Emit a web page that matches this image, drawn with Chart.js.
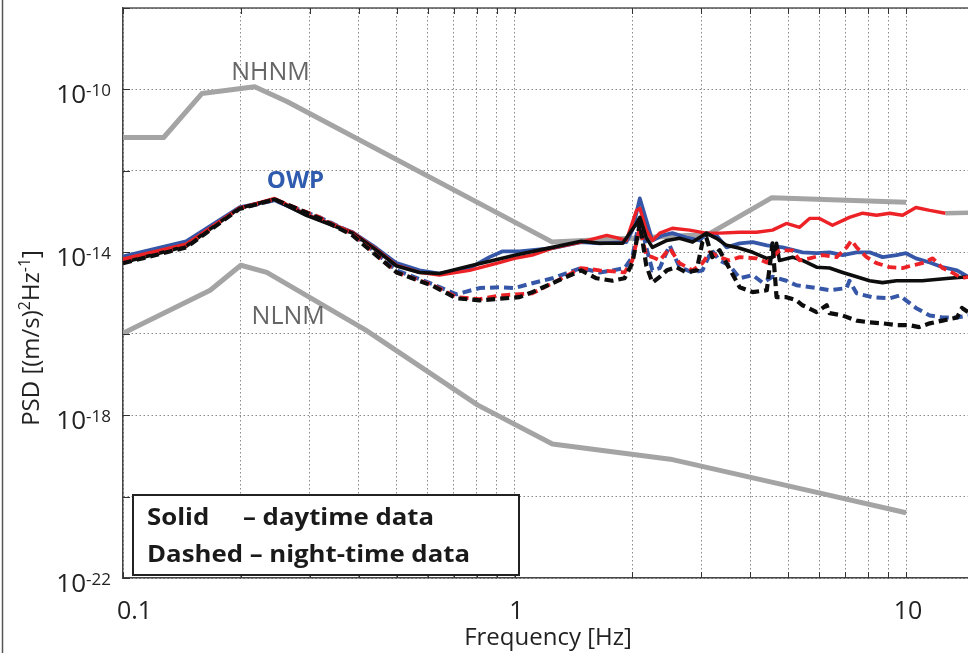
<!DOCTYPE html>
<html>
<head>
<meta charset="utf-8">
<script src="https://cdn.jsdelivr.net/npm/chart.js@4.4.1/dist/chart.umd.min.js"></script>
<style>
html,body{margin:0;padding:0;background:#fff;overflow:hidden;}
#wrap{position:relative;width:968px;height:653px;}
canvas{display:block;}
</style>
</head>
<body>
<div id="wrap"><canvas id="chart" width="968" height="653"></canvas></div>
<script>
// ---------------- DATA ----------------
const xTickValues = [0.1,0.2,0.3,0.4,0.5,0.6,0.7,0.8,0.9,1,2,3,4,5,6,7,8,9,10];
const xLabelValues = [0.1, 1, 10];
const xLabelTexts  = ['0.1', '1', '10'];
const yGridValues  = [1e-22,1e-20,1e-18,1e-16,1e-14,1e-12,1e-10,1e-8];
const yLabelValues = [1e-22, 1e-18, 1e-14, 1e-10];
const yLabelExps   = ['-22', '-18', '-14', '-10'];

// Peterson noise models  [frequency Hz, PSD]
const nhnm = [[0.1,6.6e-12],[0.127,6.6e-12],[0.159,7.9e-11],[0.217,1.17e-10],[0.263,5.0e-11],
              [1.25,1.78e-14],[3.125,2.75e-14],[4.545,2.2e-13],[10,1.7e-13]];
const nlnm = [[0.1,1.02e-16],[0.167,1.17e-15],[0.2,4.8e-15],[0.233,3.2e-15],[0.417,1.23e-16],
              [0.806,1.76e-18],[1.25,1.95e-19],[2.5,8.3e-20],[5.88,1.29e-20],[10,4.0e-21]];
const grayTail = [[12.6,9.1e-14],[14.4,9.3e-14]];

// daytime (solid)
const blueDay = [[0.1,7.9e-15],[0.145,1.86e-14],[0.198,1.26e-13],[0.244,1.9e-13],[0.294,8.5e-14],[0.386,3.1e-14],
  [0.444,1.26e-14],[0.5,5.4e-15],[0.572,3.6e-15],[0.643,3.0e-15],[0.768,4.1e-15],[0.863,7.6e-15],[0.93,1.05e-14],
  [1.03,1.05e-14],[1.25,1.26e-14],[1.48,1.78e-14],[1.65,1.66e-14],[1.93,1.78e-14],[2.0,3.5e-14],[2.09,2.1e-13],
  [2.17,6.2e-14],[2.25,1.95e-14],[2.39,2.6e-14],[2.53,2.95e-14],[2.75,2.3e-14],[2.97,1.95e-14],[3.09,2.95e-14],
  [3.28,2.6e-14],[3.48,1.32e-14],[3.76,1.66e-14],[4.06,1.78e-14],[4.41,1.48e-14],[4.84,1.32e-14],[5.44,1.0e-14],
  [5.91,9.5e-15],[6.38,1.0e-14],[6.89,8.5e-15],[7.48,1.0e-14],[8.07,1.0e-14],[8.71,7.6e-15],[9.46,8.5e-15],
  [10.0,9.5e-15],[10.6,7.1e-15],[11.5,5.6e-15],[12.4,4.3e-15],[13.5,3.6e-15],[14.4,2.5e-15]];
const redDay = [[0.1,6.8e-15],[0.145,1.58e-14],[0.198,1.2e-13],[0.244,2.1e-13],[0.294,8.5e-14],[0.386,3.1e-14],
  [0.444,1.18e-14],[0.5,4.8e-15],[0.572,3.2e-15],[0.643,2.75e-15],[0.768,3.6e-15],[0.915,5.6e-15],[1.0,7.1e-15],
  [1.11,8.5e-15],[1.25,1.26e-14],[1.48,1.78e-14],[1.72,2.6e-14],[1.82,2.3e-14],[1.93,1.95e-14],[2.05,1.07e-13],
  [2.09,1.2e-13],[2.17,3.5e-14],[2.25,1.95e-14],[2.35,2.95e-14],[2.53,3.9e-14],[2.8,3.5e-14],[3.09,2.95e-14],
  [3.34,2.95e-14],[3.76,3.1e-14],[4.15,3.1e-14],[4.56,3.5e-14],[4.95,5.1e-14],[5.35,4.1e-14],[5.67,6.8e-14],
  [6.01,6.8e-14],[6.49,4.6e-14],[7.17,7.2e-14],[7.75,9.1e-14],[8.41,8.1e-14],[9.08,9.1e-14],[9.8,8.1e-14],
  [10.6,1.26e-13],[11.5,1.07e-13],[12.6,9.1e-14]];
const blackDay = [[0.1,5.6e-15],[0.145,1.41e-14],[0.198,1.2e-13],[0.244,2.0e-13],[0.294,8.1e-14],[0.386,2.95e-14],
  [0.444,1.12e-14],[0.5,4.6e-15],[0.572,3.2e-15],[0.643,3.0e-15],[0.768,4.6e-15],[0.954,7.6e-15],[1.0,8.5e-15],
  [1.25,1.32e-14],[1.48,1.86e-14],[1.65,1.66e-14],[1.89,1.66e-14],[2.05,5.1e-14],[2.09,7.2e-14],[2.17,2.3e-14],
  [2.25,1.32e-14],[2.45,1.95e-14],[2.64,2.2e-14],[2.85,1.78e-14],[3.09,2.95e-14],[3.28,2.2e-14],[3.48,1.48e-14],
  [3.76,1.26e-14],[4.06,1.0e-14],[4.41,7.1e-15],[4.56,7.6e-15],[4.67,1.66e-14],[4.75,6.3e-15],[5.13,7.6e-15],
  [5.44,6.3e-15],[5.91,4.3e-15],[6.38,4.1e-15],[6.89,3.2e-15],[7.48,2.5e-15],[8.07,2.0e-15],[8.71,1.8e-15],
  [9.46,2.0e-15],[11.0,2.0e-15],[12.9,2.3e-15],[14.4,2.5e-15]];

// night-time (dashed)
const blueNight = [[0.1,7.1e-15],[0.145,1.66e-14],[0.198,1.2e-13],[0.244,1.9e-13],[0.318,7.2e-14],[0.386,2.95e-14],
  [0.5,3.6e-15],[0.62,1.62e-15],[0.711,9.3e-16],[0.814,1.32e-15],[0.915,1.38e-15],[1.0,1.32e-15],[1.11,1.74e-15],
  [1.25,2.3e-15],[1.48,4.1e-15],[1.65,3.2e-15],[1.78,3.6e-15],[1.91,4.1e-15],[2.0,7.6e-15],[2.09,7.2e-14],
  [2.17,1.32e-14],[2.25,3.6e-15],[2.35,4.1e-15],[2.49,1.48e-14],[2.64,4.3e-15],[2.85,3.2e-15],[3.02,3.6e-15],
  [3.19,1.12e-14],[3.34,6.3e-15],[3.54,4.8e-15],[3.76,2.3e-15],[4.06,2.75e-15],[4.3,1.8e-15],[4.56,2.5e-15],
  [4.95,2.0e-15],[5.25,1.55e-15],[5.91,1.32e-15],[6.38,1.17e-15],[7.05,1.32e-15],[7.17,2.0e-15],[7.48,9.8e-16],
  [8.21,7.9e-16],[9.08,7.4e-16],[9.62,8.7e-16],[10.0,6.6e-16],[10.6,4.3e-16],[11.5,2.8e-16],[12.4,2.5e-16],
  [13.5,2.5e-16],[14.4,2.8e-16]];
const redNight = [[0.1,6.3e-15],[0.145,1.48e-14],[0.198,1.2e-13],[0.244,2.0e-13],[0.318,7.2e-14],[0.386,2.75e-14],
  [0.5,3.2e-15],[0.62,1.55e-15],[0.711,7.9e-16],[0.814,7.1e-16],[0.915,8.7e-16],[1.11,9.8e-16],[1.25,1.74e-15],
  [1.48,4.1e-15],[1.65,3.6e-15],[1.91,3.2e-15],[2.0,6.3e-15],[2.09,4.1e-14],[2.17,8.5e-15],[2.25,7.6e-15],
  [2.35,6.3e-15],[2.49,1.26e-14],[2.64,5.4e-15],[2.85,3.6e-15],[3.02,5.4e-15],[3.15,1.0e-14],[3.34,7.6e-15],
  [3.54,6.3e-15],[3.76,7.6e-15],[4.15,7.1e-15],[4.41,5.6e-15],[4.56,7.6e-15],[4.75,1.12e-14],[5.13,1.12e-14],
  [5.35,6.3e-15],[5.67,7.1e-15],[6.12,8.5e-15],[6.65,7.6e-15],[7.05,1.32e-14],[7.26,1.95e-14],[7.48,1.32e-14],
  [7.93,7.6e-15],[8.41,5.4e-15],[9.08,4.3e-15],[9.8,4.1e-15],[10.4,4.8e-15],[11.0,5.4e-15],[11.7,7.1e-15],
  [12.4,4.1e-15],[13.1,3.2e-15],[13.9,2.3e-15],[14.4,2.5e-15]];
const blackNight = [[0.1,5.4e-15],[0.145,1.32e-14],[0.198,1.15e-13],[0.244,2.0e-13],[0.318,6.8e-14],[0.386,2.6e-14],
  [0.5,3.2e-15],[0.62,1.48e-15],[0.711,7.4e-16],[0.814,6.6e-16],[1.03,7.9e-16],[1.11,1.05e-15],[1.25,1.74e-15],
  [1.48,3.6e-15],[1.62,2.3e-15],[1.78,2.0e-15],[1.91,2.3e-15],[2.0,5.4e-15],[2.09,5.1e-14],[2.17,4.8e-15],
  [2.25,1.8e-15],[2.35,2.5e-15],[2.45,3.6e-15],[2.59,4.3e-15],[2.75,3.2e-15],[2.92,3.6e-15],[3.02,1.78e-14],
  [3.09,2.3e-14],[3.2,7.6e-15],[3.34,1.12e-14],[3.48,5.4e-15],[3.76,1.38e-15],[4.06,1.05e-15],[4.41,1.17e-15],
  [4.56,1.66e-14],[4.67,7.9e-16],[4.95,7.9e-16],[5.25,6.6e-16],[5.44,5.0e-16],[5.91,3.4e-16],[6.27,5.0e-16],
  [6.38,3.2e-16],[6.89,2.8e-16],[7.48,2.1e-16],[8.07,1.9e-16],[8.71,1.8e-16],[9.46,1.62e-16],[10.2,1.62e-16],
  [10.8,1.45e-16],[11.5,1.8e-16],[12.4,2.1e-16],[13.5,2.5e-16],[13.9,4.3e-16],[14.4,3.4e-16]];

// text annotations anchored at data coordinates [frequency, PSD]
const noteNHNM = [0.189, 1.66e-10];
const noteOWP  = [0.233, 3.9e-13];
const noteNLNM = [0.213, 1.7e-16];

// ---------------- STYLE ----------------
const RED = '#ec2227', BLUE = '#3657a8', BLACK = '#0d0d0d', GRAY = '#a4a4a4';
const FONT = '"Open Sans", "DejaVu Sans", sans-serif';
const DASH = [9, 5];

const toPts = arr => arr.map(p => ({x: p[0], y: p[1]}));
function ds(label, arr, color, width, dash, order){
  return {label, data: toPts(arr), borderColor: color, backgroundColor: color, borderWidth: width,
          borderDash: dash || [], pointRadius: 0, tension: 0, fill: false, order,
          borderCapStyle: 'butt', borderJoinStyle: 'round'};
}

function drawRich(ctx, segs, size, family, dry){
  let x = 0;
  segs.forEach(s => {
    const fs = s.sup ? size * 0.66 : size;
    ctx.font = fs + 'px ' + family;
    if (!dry) ctx.fillText(s.t, x, s.sup ? -size * 0.36 : 0);
    x += ctx.measureText(s.t).width;
  });
  return x;
}

const deco = {
  id: 'deco',
  afterDraw(chart){
    const {ctx, chartArea: a, scales: {x, y}} = chart;
    ctx.save();
    // outer frame line (left edge of figure)
    ctx.strokeStyle = '#555'; ctx.lineWidth = 1.5;
    ctx.beginPath(); ctx.moveTo(2.5, 0); ctx.lineTo(2.5, chart.height); ctx.stroke();
    // top axis line
    ctx.strokeStyle = '#555'; ctx.lineWidth = 1.5;
    ctx.beginPath(); ctx.moveTo(a.left, a.top); ctx.lineTo(a.right, a.top); ctx.stroke();
    // inward tick marks
    ctx.strokeStyle = '#333'; ctx.lineWidth = 1;
    xTickValues.forEach(v => {
      const px = Math.round(x.getPixelForValue(v)) + 0.5;
      ctx.beginPath();
      ctx.moveTo(px, a.bottom); ctx.lineTo(px, a.bottom - 6);
      ctx.moveTo(px, a.top); ctx.lineTo(px, a.top + 6);
      ctx.stroke();
    });
    yGridValues.forEach(v => {
      const py = Math.round(y.getPixelForValue(v)) + 0.5;
      ctx.beginPath(); ctx.moveTo(a.left, py); ctx.lineTo(a.left + 7, py); ctx.stroke();
    });

    ctx.fillStyle = '#222';
    ctx.textBaseline = 'alphabetic';
    // y tick labels 10^n
    yLabelValues.forEach((v, i) => {
      const py = y.getPixelForValue(v);
      ctx.font = '17px ' + FONT;
      const ew = ctx.measureText(yLabelExps[i]).width;
      ctx.textAlign = 'left';
      ctx.fillText(yLabelExps[i], 111 - ew, py + 7);
      ctx.font = '26px ' + FONT;
      ctx.textAlign = 'right';
      ctx.fillText('10', 111 - ew, py + 14);
    });
    // x tick labels
    ctx.font = '25px ' + FONT;
    ctx.textAlign = 'center';
    xLabelValues.forEach((v, i) => {
      const px = x.getPixelForValue(v);
      const w = ctx.measureText(xLabelTexts[i]).width;
      ctx.fillText(xLabelTexts[i], Math.max(px + 2, a.left - 6 + w / 2), 619);
    });
    // x title
    ctx.font = '24px ' + FONT;
    ctx.textAlign = 'center';
    ctx.fillText('Frequency [Hz]', 548, 645);
    // y title (rotated)
    const ySegs = [{t: 'PSD [(m/s)'}, {t: '2', sup: true}, {t: 'Hz'}, {t: '-1', sup: true}, {t: ']'}];
    ctx.textAlign = 'left';
    const yw = drawRich(ctx, ySegs, 24, FONT, true);
    ctx.save();
    ctx.translate(39, 338);
    ctx.rotate(-Math.PI / 2);
    ctx.translate(-yw / 2, 0);
    drawRich(ctx, ySegs, 24, FONT, false);
    ctx.restore();

    // curve annotations
    ctx.textAlign = 'left';
    ctx.font = '25px ' + FONT;
    ctx.fillStyle = '#666';
    ctx.fillText('NHNM', x.getPixelForValue(noteNHNM[0]), y.getPixelForValue(noteNHNM[1]));
    ctx.fillText('NLNM', x.getPixelForValue(noteNLNM[0]), y.getPixelForValue(noteNLNM[1]));
    ctx.font = 'bold 24px ' + FONT;
    ctx.fillStyle = '#2f5cae';
    ctx.fillText('OWP', x.getPixelForValue(noteOWP[0]), y.getPixelForValue(noteOWP[1]));

    // legend box
    const bx = a.left + 10, by = a.bottom - 83, bw = 386, bh = 80;
    ctx.fillStyle = '#fff';
    ctx.fillRect(bx, by, bw, bh);
    ctx.strokeStyle = '#222'; ctx.lineWidth = 2;
    ctx.strokeRect(bx, by, bw, bh);
    ctx.fillStyle = '#1a1a1a';
    ctx.font = 'bold 24px ' + FONT;
    const line2 = 'Dashed \u2013 night-time data';
    const sx = 323 / ctx.measureText(line2).width;
    ctx.save(); ctx.translate(bx + 14, by + 30); ctx.scale(sx, 1);
    ctx.fillText('Solid', 0, 0);
    ctx.restore();
    ctx.save(); ctx.translate(bx + 110, by + 30); ctx.scale(sx, 1);
    ctx.fillText('\u2013 daytime data', 0, 0);
    ctx.restore();
    ctx.save(); ctx.translate(bx + 14, by + 67); ctx.scale(sx, 1);
    ctx.fillText(line2, 0, 0);
    ctx.restore();
    ctx.restore();
  }
};

new Chart(document.getElementById('chart'), {
  type: 'line',
  data: {
    datasets: [
      ds('black night', blackNight, BLACK, 4.2, DASH, 1),
      ds('red night', redNight, RED, 3.8, DASH, 2),
      ds('black day', blackDay, BLACK, 3.6, null, 3),
      ds('red day', redDay, RED, 3.4, null, 4),
      ds('blue night', blueNight, BLUE, 4, DASH, 5),
      ds('blue day', blueDay, BLUE, 3.8, null, 6),
      ds('NHNM', nhnm, GRAY, 5, null, 7),
      ds('NLNM', nlnm, GRAY, 5, null, 8),
      ds('tail', grayTail, GRAY, 4.5, null, 9)
    ]
  },
  options: {
    responsive: false,
    animation: false,
    events: [],
    layout: {padding: {left: 123, top: 8, right: 0, bottom: 75}},
    plugins: {legend: {display: false}, tooltip: {enabled: false}},
    scales: {
      x: {
        type: 'logarithmic', min: 0.1, max: 14.4,
        afterBuildTicks: s => { s.ticks = xTickValues.map(v => ({value: v})); },
        afterFit: s => { s.height = 0; },
        ticks: {display: false, autoSkip: false},
        grid: {color: '#8a8a8a', lineWidth: 1, drawTicks: false},
        border: {display: true, color: '#444', width: 1.5, dash: [1.5, 2.5]}
      },
      y: {
        type: 'logarithmic', min: 1e-22, max: 1e-8,
        afterBuildTicks: s => { s.ticks = yGridValues.map(v => ({value: v})); },
        afterFit: s => { s.width = 0; },
        ticks: {display: false, autoSkip: false},
        grid: {color: '#8a8a8a', lineWidth: 1, drawTicks: false},
        border: {display: true, color: '#444', width: 1.5, dash: [1.5, 2.5]}
      }
    }
  },
  plugins: [deco]
});
</script>
</body>
</html>
